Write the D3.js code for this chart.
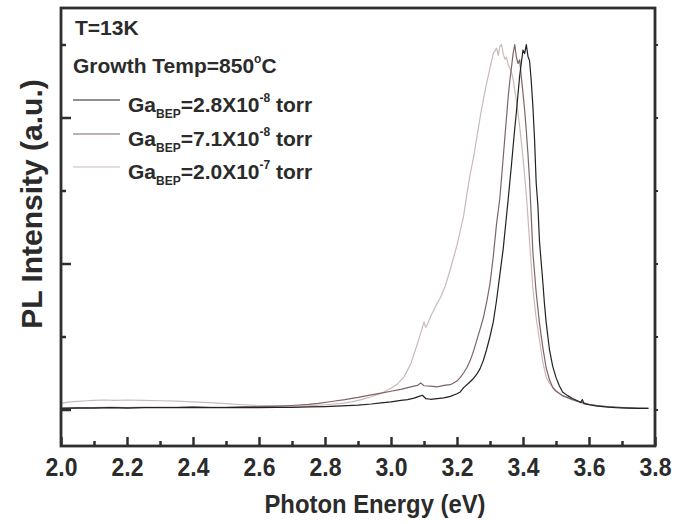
<!DOCTYPE html>
<html>
<head>
<meta charset="utf-8">
<script src="https://cdn.jsdelivr.net/npm/d3@7"></script>
<style>
  html, body { margin: 0; padding: 0; background: #fff; }
  svg { display: block; font-family: "Liberation Sans", Arial, sans-serif; }
</style>
</head>
<body>
<svg id="chart" width="676" height="524"></svg>
<script>
// Photoluminescence spectra at 13 K for three Ga beam-equivalent pressures
const xTicks = [2.0, 2.2, 2.4, 2.6, 2.8, 3.0, 3.2, 3.4, 3.6, 3.8];
const seriesNames = ["2.8X10", "7.1X10", "2.0X10"];
const seriesExps = ["-8", "-8", "-7"];
const seriesColors = ["#222222", "#7e6565", "#cbb9b9"];

// Ga_BEP = 2.8e-8 torr
const energyA = [2.00,2.05,2.10,2.15,2.20,2.25,2.30,2.35,2.40,2.45,2.50,2.55,2.60,2.65,2.70,2.75,2.80,2.85,2.90,2.94,2.97,3.00,3.03,3.05,3.07,3.085,3.095,3.105,3.12,3.14,3.16,3.18,3.20,3.21,3.22,3.235,3.25,3.26,3.27,3.28,3.29,3.30,3.31,3.32,3.33,3.34,3.35,3.355,3.365,3.375,3.38,3.39,3.395,3.40,3.405,3.41,3.415,3.42,3.425,3.43,3.435,3.44,3.445,3.45,3.46,3.465,3.47,3.48,3.49,3.50,3.51,3.52,3.535,3.55,3.565,3.575,3.58,3.585,3.60,3.62,3.65,3.68,3.72,3.75,3.78];
const intensityA = [.003,.004,.004,.005,.004,.005,.005,.005,.006,.005,.005,.006,.005,.006,.006,.007,.008,.010,.012,.015,.018,.021,.025,.027,.031,.036,.039,.030,.028,.030,.032,.036,.043,.048,.060,.072,.085,.097,.112,.135,.165,.200,.240,.300,.370,.440,.530,.575,.670,.770,.815,.915,.950,.985,.975,1.0,.968,.955,.900,.830,.740,.620,.560,.460,.350,.290,.240,.165,.118,.088,.065,.048,.038,.030,.024,.019,.027,.016,.013,.010,.007,.005,.004,.003,.003];

// Ga_BEP = 7.1e-8 torr
const energyB = [2.00,2.05,2.10,2.15,2.20,2.25,2.30,2.35,2.40,2.45,2.50,2.55,2.60,2.65,2.70,2.75,2.78,2.82,2.86,2.90,2.94,2.97,3.00,3.03,3.06,3.08,3.09,3.10,3.12,3.14,3.16,3.18,3.20,3.21,3.22,3.23,3.24,3.25,3.26,3.27,3.28,3.29,3.30,3.31,3.32,3.33,3.34,3.35,3.355,3.36,3.365,3.37,3.375,3.38,3.385,3.39,3.395,3.40,3.405,3.41,3.415,3.42,3.43,3.44,3.45,3.46,3.47,3.48,3.49,3.50,3.52,3.55,3.575,3.60,3.63,3.66,3.70,3.74,3.78];
const intensityB = [.004,.005,.005,.006,.005,.006,.006,.006,.007,.006,.006,.007,.008,.009,.011,.014,.017,.022,.027,.033,.040,.045,.050,.055,.062,.066,.073,.065,.064,.062,.066,.068,.078,.088,.100,.115,.134,.160,.190,.220,.252,.295,.345,.420,.510,.580,.690,.800,.855,.900,.937,.975,1.0,.965,.948,.958,.910,.866,.820,.764,.700,.627,.430,.320,.236,.170,.115,.082,.060,.050,.038,.027,.020,.014,.010,.007,.005,.004,.003];

// Ga_BEP = 2.0e-7 torr
const energyC = [2.00,2.02,2.05,2.08,2.10,2.13,2.16,2.20,2.25,2.30,2.35,2.40,2.45,2.50,2.55,2.60,2.65,2.70,2.75,2.80,2.85,2.88,2.91,2.94,2.97,3.00,3.02,3.04,3.06,3.08,3.095,3.10,3.105,3.11,3.12,3.135,3.15,3.165,3.18,3.20,3.21,3.22,3.23,3.24,3.25,3.26,3.27,3.28,3.29,3.30,3.31,3.32,3.325,3.33,3.335,3.34,3.345,3.35,3.355,3.36,3.365,3.37,3.375,3.38,3.39,3.40,3.41,3.42,3.43,3.44,3.45,3.46,3.47,3.48,3.50,3.52,3.55,3.58,3.62,3.66,3.70,3.74,3.78];
const intensityC = [.016,.020,.022,.024,.025,.026,.025,.026,.025,.024,.023,.021,.019,.016,.013,.011,.009,.009,.010,.013,.017,.021,.027,.035,.044,.058,.070,.090,.125,.180,.225,.240,.225,.232,.255,.282,.307,.340,.385,.450,.490,.530,.590,.645,.690,.745,.800,.850,.895,.935,.975,.990,.970,.995,1.0,.975,.960,.965,.945,.935,.925,.905,.875,.845,.775,.690,.590,.460,.330,.250,.190,.130,.090,.072,.052,.038,.026,.017,.011,.008,.006,.004,.003];

const energies = [energyA, energyB, energyC];
const intensities = [intensityA, intensityB, intensityC];

const svg = d3.select("#chart");
const plotLeft = 61, plotRight = 655, plotTop = 8, plotBottom = 446;
const axisColor = "#2f2f2f";
const textColor = "#2b2b2b";

const x = d3.scaleLinear().domain([2.0, 3.8]).range([plotLeft, plotRight]);
const y = d3.scaleLinear().domain([-0.1, 1.1]).range([plotBottom, plotTop]);

svg.append("defs").append("clipPath").attr("id", "plot-clip")
  .append("rect").attr("x", plotLeft).attr("y", plotTop)
  .attr("width", plotRight - plotLeft).attr("height", plotBottom - plotTop);

// Spectra, lightest drawn first
const line = d3.line().x(d => x(d[0])).y(d => y(d[1]));
const plot = svg.append("g").attr("clip-path", "url(#plot-clip)");
[2, 1, 0].forEach(i => {
  const pts = energies[i].map((e, k) => [e, intensities[i][k]]);
  plot.append("path").datum(pts)
    .attr("d", line)
    .attr("fill", "none")
    .attr("stroke", seriesColors[i])
    .attr("stroke-width", 1.2)
    .attr("stroke-linejoin", "round");
});

// Bottom axis: major ticks every 0.2 eV, minor every 0.1 eV, pointing inward
const xMinor = d3.range(2.1, 3.8, 0.2).map(v => +v.toFixed(1));
const xAxis = d3.axisBottom(x).tickValues(xTicks).tickFormat(d3.format(".1f"))
  .tickSizeInner(-9).tickSizeOuter(0).tickPadding(12);
const gx = svg.append("g").attr("transform", `translate(0,${plotBottom})`).call(xAxis);
gx.select(".domain").remove();
gx.selectAll(".tick line").attr("stroke", axisColor).attr("stroke-width", 2.5);
gx.selectAll(".tick text")
  .attr("fill", textColor)
  .attr("transform", "scale(0.92,1)")
  .style("font-size", "25px")
  .style("font-weight", "bold");
const gxm = svg.append("g").attr("transform", `translate(0,${plotBottom})`)
  .call(d3.axisBottom(x).tickValues(xMinor).tickSizeInner(-5).tickSizeOuter(0).tickFormat(""));
gxm.select(".domain").remove();
gxm.selectAll(".tick line").attr("stroke", axisColor).attr("stroke-width", 2.5);

// Left axis: unlabeled, major ticks at 0, 0.4, 0.8 and minor between
const yMajor = [0, 0.4, 0.8];
const yMinor = [0.2, 0.6, 1.0];
[[yMajor, 10], [yMinor, 5]].forEach(([vals, len]) => {
  const g = svg.append("g").attr("transform", `translate(${plotLeft},0)`)
    .call(d3.axisLeft(y).tickValues(vals).tickSizeInner(-len).tickSizeOuter(0).tickFormat(""));
  g.select(".domain").remove();
  g.selectAll(".tick line").attr("stroke", axisColor).attr("stroke-width", 2.5);
});
// Right axis small outer ticks
const gr = svg.append("g").attr("transform", `translate(${plotRight},0)`)
  .call(d3.axisRight(y).tickValues(yMajor.concat(yMinor)).tickSizeInner(3).tickSizeOuter(0).tickFormat(""));
gr.select(".domain").remove();
gr.selectAll(".tick line").attr("stroke", axisColor).attr("stroke-width", 2);

// Frame
svg.append("rect")
  .attr("x", plotLeft).attr("y", plotTop)
  .attr("width", plotRight - plotLeft).attr("height", plotBottom - plotTop)
  .attr("fill", "none").attr("stroke", axisColor).attr("stroke-width", 2.8);

// Axis titles
svg.append("text")
  .attr("transform", "translate(375,513) scale(0.9,1)")
  .attr("text-anchor", "middle")
  .attr("fill", textColor)
  .style("font-size", "26.5px").style("font-weight", "bold")
  .text("Photon Energy (eV)");
svg.append("text")
  .attr("transform", "translate(42,204) rotate(-90)")
  .attr("text-anchor", "middle")
  .attr("fill", textColor)
  .style("font-size", "30px").style("font-weight", "bold")
  .text("PL Intensity (a.u.)");

// Annotations
const note = svg.append("g").attr("fill", textColor)
  .style("font-weight", "bold").style("font-size", "21px");
note.append("text").attr("x", 75).attr("y", 35).text("T=13K");
const gt = note.append("text").attr("x", 73).attr("y", 73);
gt.append("tspan").text("Growth Temp=850");
gt.append("tspan").attr("dy", -10).style("font-size", "12px").text("o");
gt.append("tspan").attr("dy", 10).text("C");

// Legend
const rowY = [112, 146, 179];
seriesNames.forEach((name, i) => {
  const yy = rowY[i];
  note.append("line")
    .attr("x1", 73).attr("x2", 120)
    .attr("y1", yy - 12).attr("y2", yy - 12)
    .attr("stroke", seriesColors[i]).attr("stroke-width", 1.2);
  const t = note.append("text").attr("x", 128).attr("y", yy);
  t.append("tspan").text("Ga");
  t.append("tspan").attr("dy", 6).style("font-size", "12px").text("BEP");
  t.append("tspan").attr("dy", -6).text("=" + name);
  t.append("tspan").attr("dy", -10).style("font-size", "12px").text(seriesExps[i]);
  t.append("tspan").attr("dy", 10).text(" torr");
});
</script>
</body>
</html>
